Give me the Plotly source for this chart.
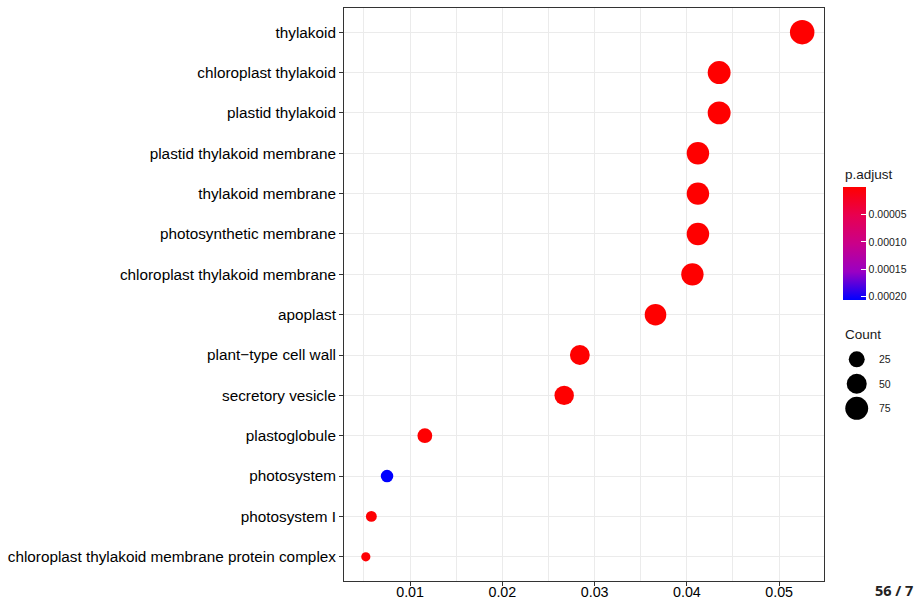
import plotly.graph_objects as go

# GO cellular-component enrichment results (top to bottom)
terms = [
    "thylakoid",
    "chloroplast thylakoid",
    "plastid thylakoid",
    "plastid thylakoid membrane",
    "thylakoid membrane",
    "photosynthetic membrane",
    "chloroplast thylakoid membrane",
    "apoplast",
    "plant\u2212type cell wall",
    "secretory vesicle",
    "plastoglobule",
    "photosystem",
    "photosystem I",
    "chloroplast thylakoid membrane protein complex",
]
gene_ratio = [0.0525, 0.0435, 0.0435, 0.0412, 0.0412, 0.0412, 0.0406,
              0.0366, 0.0284, 0.0267, 0.0116, 0.0075, 0.0058, 0.0052]
counts = [91, 75, 75, 71, 71, 71, 70, 63, 49, 46, 20, 13, 10, 9]
p_adjust = [1.2e-16, 3.5e-13, 3.5e-13, 2.1e-12, 2.1e-12, 2.1e-12, 4.0e-12,
            6.3e-10, 2.2e-8, 1.1e-7, 8.4e-7, 2.06e-4, 1.9e-6, 2.4e-6]

count_breaks = [25, 50, 75]
padj_breaks = [0.00005, 0.00010, 0.00015, 0.00020]
padj_labels = ["0.00005", "0.00010", "0.00015", "0.00020"]
x_ticks = [0.01, 0.02, 0.03, 0.04, 0.05]

W, H = 916, 600
ML, MT, MB = 344, 8, 19
PW = W - ML
PH = H - MT - MB
panel_w = 480

def px_x(px):
    return (px - ML) / PW

def px_y(py):
    return 1 - (py - MT) / PH

# area-style size scale, as in a dot plot (size range 3..8)
cmin, cmax = min(counts), max(counts)
def dot_px(c):
    frac = max(0.0, (c - cmin) / (cmax - cmin))
    return 3.06 * (3 + 5 * frac ** 0.5)

# red (low p) -> blue (high p) gradient, interpolated in Lab space
lab_scale = [
    [0.0, "rgb(0,0,255)"],
    [0.25, "rgb(154,0,195)"],
    [0.5, "rgb(202,0,137)"],
    [0.75, "rgb(232,0,80)"],
    [1.0, "rgb(255,0,0)"],
]
neg_p = [-p for p in p_adjust]

xlo, xhi = min(gene_ratio), max(gene_ratio)
span = xhi - xlo
x_range = [xlo - 0.05 * span, xhi + 0.05 * span]

fig = go.Figure()

fig.add_trace(go.Scatter(
    x=gene_ratio, y=terms, mode="markers",
    marker=dict(
        size=[dot_px(c) for c in counts],
        color=neg_p, colorscale=lab_scale,
        cmin=-max(p_adjust), cmax=-min(p_adjust),
        line=dict(width=0), opacity=1,
        colorbar=dict(
            x=px_x(843), xanchor="left", xpad=0, ypad=0,
            y=px_y(243.5), yanchor="middle",
            len=113, lenmode="pixels", thickness=23,
            outlinewidth=0,
            tickvals=[-v for v in padj_breaks], ticktext=padj_labels,
            ticks="inside", ticklen=5, tickcolor="white", tickwidth=1,
            tickfont=dict(family="Liberation Sans, Arial", size=10.5, color="#1a1a1a"),
        ),
    ),
    hoverinfo="skip", showlegend=False,
))

# size key for Count
fig.add_trace(go.Scatter(
    x=[0.188] * len(count_breaks), y=[2, 1, 0], mode="markers",
    marker=dict(size=[dot_px(c) for c in count_breaks], color="black",
                opacity=1, line=dict(width=0)),
    xaxis="x2", yaxis="y2", hoverinfo="skip", showlegend=False,
))

annotations = []
for i, c in enumerate(count_breaks):
    annotations.append(dict(
        x=0.466, y=2 - i, xref="x2", yref="y2", text=str(c), showarrow=False,
        xanchor="left", yanchor="middle",
        font=dict(family="Liberation Sans, Arial", size=10.5, color="#1a1a1a"),
    ))
annotations += [
    dict(x=px_x(843), y=px_y(174), xref="paper", yref="paper", text="p.adjust",
         showarrow=False, xanchor="left", yanchor="middle",
         font=dict(family="Liberation Sans, Arial", size=13.5, color="#1a1a1a")),
    dict(x=px_x(843), y=px_y(334), xref="paper", yref="paper", text="Count",
         showarrow=False, xanchor="left", yanchor="middle",
         font=dict(family="Liberation Sans, Arial", size=13.5, color="#1a1a1a")),
    dict(x=px_x(873), y=px_y(590), xref="paper", yref="paper", text="<b>56 / 7</b>",
         showarrow=False, xanchor="left", yanchor="middle",
         font=dict(family="Open Sans", size=14.5, color="#222222")),
]

fig.update_layout(
    width=W, height=H,
    margin=dict(l=ML, r=0, t=MT, b=MB, pad=0, autoexpand=False),
    paper_bgcolor="white", plot_bgcolor="white",
    font=dict(family="Liberation Sans, Arial", color="black"),
    hovermode=False,
    xaxis=dict(
        domain=[0, panel_w / PW], range=x_range, automargin=False,
        tickvals=x_ticks, ticktext=[f"{v:.2f}" for v in x_ticks],
        tickfont=dict(size=14.3, color="black"), ticklabelstandoff=-6,
        ticks="outside", ticklen=4, tickcolor="#333333", tickwidth=1,
        showgrid=True, gridcolor="#EBEBEB", gridwidth=1,
        minor=dict(tickvals=[0.005, 0.015, 0.025, 0.035, 0.045, 0.055],
                   showgrid=True, gridcolor="#EBEBEB", gridwidth=1, ticks=""),
        showline=True, linecolor="#333333", linewidth=1, mirror=True,
        zeroline=False,
    ),
    yaxis=dict(
        type="category", categoryorder="array", categoryarray=list(reversed(terms)),
        range=[-0.6, len(terms) - 0.4], automargin=False,
        tickfont=dict(size=15.3, color="black"),
        ticks="outside", ticklen=4, tickcolor="#333333", tickwidth=1,
        showgrid=True, gridcolor="#EBEBEB", gridwidth=1,
        showline=True, linecolor="#333333", linewidth=1, mirror=True,
        zeroline=False,
    ),
    xaxis2=dict(domain=[px_x(843), 1], range=[0, 1], visible=False, anchor="y2"),
    yaxis2=dict(domain=[px_y(420.55), px_y(347.05)], range=[-0.5, 2.5],
                visible=False, anchor="x2"),
    annotations=annotations,
)

fig.write_html("out.html")
